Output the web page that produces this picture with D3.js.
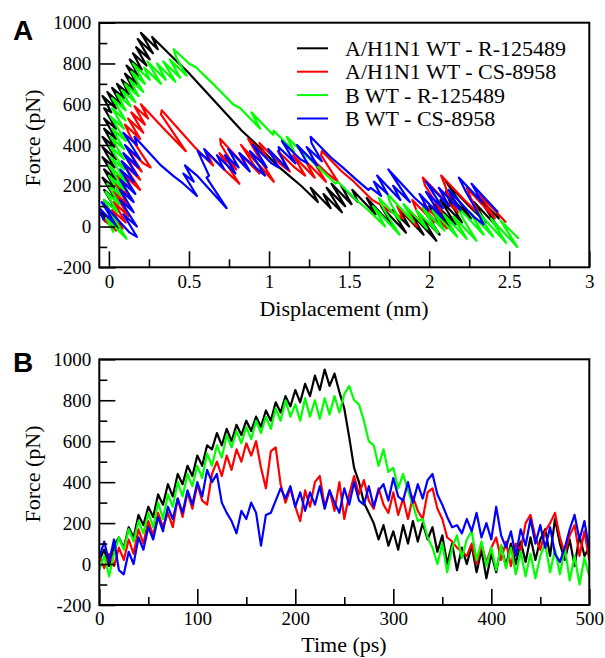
<!DOCTYPE html>
<html>
<head>
<meta charset="utf-8">
<script src="https://cdn.jsdelivr.net/npm/d3@7"></script>
<style>
  html, body { margin: 0; padding: 0; background: #fff; }
  svg { display: block; }
  .tick text { font-family: "Liberation Serif", "Times New Roman", serif; font-size: 19px; fill: #000; }
  .tick line { stroke: #000; stroke-width: 1.6; }
</style>
</head>
<body>
<div id="chart"></div>
<script>
// series names and colours
const seriesNames = ['A/H1N1 WT - R-125489', 'A/H1N1 WT - CS-8958', 'B WT - R-125489', 'B WT - CS-8958'];
const seriesColors = ['#000000', '#ff0000', '#00ff00', '#0000ff'];

// panel B: time (ps), one sample every 5 ps
const timePs = d3.range(0, 501, 5);

// force (pN)
const forceBlack = [20,70,-10,90,130,80,180,130,240,190,280,230,340,290,390,330,440,390,480,430,
  530,480,580,560,640,580,660,600,680,630,700,650,720,670,750,700,790,740,820,770,
  850,790,880,820,920,850,950,870,930,840,760,620,470,400,300,250,200,120,190,90,
  160,70,190,100,210,110,200,120,180,60,140,0,100,-30,80,0,90,-40,70,-70,
  50,-40,90,-10,100,0,110,10,130,20,120,170,40,220,100,20,120,-10,140,40,80];
const forceRed = [40,-20,50,-10,80,20,120,50,170,100,210,140,250,180,250,180,320,230,350,270,
  390,310,290,440,500,430,530,460,560,500,590,530,600,470,370,550,570,390,300,370,
  280,210,360,280,400,430,280,360,260,400,220,340,430,340,410,310,270,370,290,250,
  350,240,320,220,330,260,220,350,370,270,220,130,110,80,60,40,100,0,90,10,
  80,130,20,110,-10,100,70,200,240,130,70,160,200,250,130,50,140,190,40,160,20];
const forceGreen = [-30,40,-60,50,130,70,170,110,210,150,250,180,300,220,340,280,400,330,440,380,
  480,420,540,480,580,520,630,570,650,590,670,610,700,640,720,660,760,700,800,720,
  780,700,810,720,800,710,810,730,820,740,830,870,800,780,700,600,580,480,560,450,
  470,370,440,360,290,210,220,130,80,0,100,-40,80,140,30,120,160,20,110,-10,
  80,-30,90,-20,80,-50,60,-60,50,-70,40,100,-40,70,-50,80,-80,40,-100,30,-60];
const forceBlue = [30,110,10,120,-30,-50,60,0,130,70,180,120,230,160,280,220,320,250,360,290,
  400,330,460,400,440,300,250,210,150,260,220,300,250,90,240,250,310,370,320,380,
  280,350,260,350,290,380,270,360,300,250,370,290,400,310,290,380,280,360,390,310,
  420,330,310,400,300,390,320,410,440,340,290,230,180,190,150,220,160,250,130,200,
  120,280,140,80,160,40,170,90,220,100,190,80,180,50,10,80,170,240,120,210,70];

// panel A: displacement (nm), same samples as the forces
const dispBlack = [-0.02,-0.045,0.06,-0.015,-0.03,0.045,-0.03,0.045,-0.04,0.035,
  -0.03,0.045,-0.04,0.035,-0.04,0.045,-0.04,0.035,-0.03,0.045,
  -0.03,0.045,-0.03,0.015,-0.04,0.045,-0.01,0.075,0.02,0.095,
  0.05,0.125,0.08,0.155,0.1,0.175,0.11,0.185,0.13,0.205,
  0.15,0.235,0.17,0.255,0.18,0.275,0.2,0.305,0.27,0.385,
  0.49,0.655,0.83,0.925,1.05,1.125,1.2,1.305,1.26,1.385,
  1.34,1.455,1.36,1.475,1.39,1.515,1.45,1.555,1.52,1.665,
  1.61,1.775,1.7,1.855,1.77,1.875,1.81,1.965,1.88,2.045,
  1.95,2.065,1.96,2.085,2.0,2.125,2.04,2.165,2.07,2.205,
  2.13,2.105,2.26,2.105,2.25,2.355,2.28,2.435,2.31,2.435,2.42];
const dispRed = [-0.04,0.045,0,0.085,0.02,0.105,0.03,0.125,0.03,0.125,
  0.04,0.135,0.05,0.145,0.1,0.195,0.08,0.195,0.1,0.205,
  0.11,0.215,0.26,0.135,0.1,0.195,0.12,0.215,0.14,0.225,
  0.16,0.245,0.2,0.355,0.48,0.325,0.33,0.535,0.65,0.605,
  0.72,0.815,0.69,0.795,0.7,0.695,0.87,0.815,0.94,0.825,
  1.03,0.935,0.87,0.985,0.94,1.065,1.13,1.055,1.16,1.225,
  1.15,1.285,1.23,1.355,1.27,1.365,1.43,1.325,1.33,1.455,
  1.53,1.645,1.69,1.745,1.79,1.835,1.8,1.925,1.86,1.965,
  1.92,1.895,2.03,1.965,2.11,2.025,2.08,1.975,1.96,2.095,
  2.18,2.115,2.1,2.075,2.22,2.325,2.26,2.235,2.41,2.315,2.48];
const dispGreen = [0.03,-0.015,0.11,0.025,-0.03,0.055,-0.02,0.065,-0.01,0.075,
  0,0.095,0,0.105,0.01,0.095,0,0.095,0.01,0.095,
  0.02,0.105,0.01,0.095,0.02,0.105,0.02,0.105,0.05,0.135,
  0.08,0.165,0.1,0.185,0.13,0.215,0.14,0.225,0.15,0.255,
  0.22,0.325,0.24,0.355,0.3,0.415,0.34,0.445,0.38,0.485,
  0.42,0.405,0.5,0.545,0.65,0.775,0.82,0.945,0.89,1.025,
  1.03,1.155,1.11,1.215,1.31,1.415,1.43,1.545,1.62,1.725,
  1.65,1.815,1.72,1.685,1.82,1.755,1.74,1.905,1.84,1.985,
  1.92,2.055,1.96,2.095,2.02,2.175,2.09,2.235,2.15,2.295,
  2.21,2.175,2.34,2.255,2.4,2.295,2.48,2.385,2.55,2.445,2.56];
const dispBlue = [-0.03,-0.085,0.04,-0.045,0.13,0.175,0.09,0.175,0.07,0.155,
  0.07,0.155,0.07,0.165,0.07,0.155,0.08,0.175,0.09,0.185,
  0.1,0.195,0.09,0.175,0.16,0.325,0.4,0.465,0.55,0.465,
  0.53,0.475,0.55,0.735,0.61,0.625,0.59,0.555,0.63,0.595,
  0.72,0.675,0.79,0.725,0.81,0.745,0.88,0.815,0.9,0.975,
  0.88,0.985,0.9,1.015,1.06,0.995,1.12,1.065,1.06,1.165,
  1.08,1.195,1.24,1.175,1.3,1.235,1.33,1.265,1.26,1.385,
  1.46,1.545,1.62,1.635,1.7,1.655,1.74,1.675,1.82,1.775,
  1.88,1.745,1.91,1.995,1.94,2.085,1.98,2.085,1.98,2.125,
  2.06,2.195,2.12,2.275,2.34,2.295,2.23,2.185,2.33,2.265,2.43];

// axis ticks
const dispMajor = [0, 0.5, 1, 1.5, 2, 2.5, 3];
const dispMinor = [0.25, 0.75, 1.25, 1.75, 2.25, 2.75];
const timeMajor = [0, 100, 200, 300, 400, 500];
const timeMinor = [50, 150, 250, 350, 450];
const forceMajor = [-200, 0, 200, 400, 600, 800, 1000];
const forceMinor = [-100, 100, 300, 500, 700, 900];

const width = 605, height = 658;
const left = 99.3, right = 589.3;

const svg = d3.select('#chart').append('svg')
  .attr('width', width)
  .attr('height', height);

const forces = [forceBlack, forceRed, forceGreen, forceBlue];
const disps = [dispBlack, dispRed, dispGreen, dispBlue];

function drawPanel(opts) {
  const x = d3.scaleLinear().domain(opts.xDomain).range([left, right]);
  const y = d3.scaleLinear().domain([-200, 1000]).range([opts.bottom, opts.top]);
  const g = svg.append('g');

  // clip so lines stay in the frame
  g.append('clipPath').attr('id', opts.id + '-clip')
    .append('rect')
    .attr('x', left).attr('y', opts.top)
    .attr('width', right - left).attr('height', opts.bottom - opts.top);

  const lines = g.append('g').attr('clip-path', `url(#${opts.id}-clip)`);
  opts.series.forEach((pts, i) => {
    lines.append('path')
      .datum(pts)
      .attr('fill', 'none')
      .attr('stroke', seriesColors[i])
      .attr('stroke-width', 2.2)
      .attr('stroke-linejoin', 'round')
      .attr('d', d3.line().x(d => x(d[0])).y(d => y(d[1])));
  });

  // major and minor ticks point inward
  const fmt = d => String(d);
  g.append('g')
    .attr('transform', `translate(0,${opts.bottom})`)
    .call(d3.axisBottom(x).tickValues(opts.xMajor).tickFormat(fmt).tickSizeInner(-16).tickSizeOuter(0).tickPadding(7))
    .call(a => a.select('.domain').remove());
  g.append('g')
    .attr('transform', `translate(0,${opts.bottom})`)
    .call(d3.axisBottom(x).tickValues(opts.xMinor).tickFormat('').tickSizeInner(-8).tickSizeOuter(0))
    .call(a => a.select('.domain').remove());
  g.append('g')
    .attr('transform', `translate(${left},0)`)
    .call(d3.axisLeft(y).tickValues(forceMajor).tickFormat(fmt).tickSizeInner(-16).tickSizeOuter(0).tickPadding(8))
    .call(a => a.select('.domain').remove());
  g.append('g')
    .attr('transform', `translate(${left},0)`)
    .call(d3.axisLeft(y).tickValues(forceMinor).tickFormat('').tickSizeInner(-8).tickSizeOuter(0))
    .call(a => a.select('.domain').remove());

  // frame
  g.append('rect')
    .attr('x', left).attr('y', opts.top)
    .attr('width', right - left).attr('height', opts.bottom - opts.top)
    .attr('fill', 'none')
    .attr('stroke', '#000')
    .attr('stroke-width', 2);

  // axis titles
  g.append('text')
    .attr('x', 344).attr('y', opts.xTitleY)
    .attr('text-anchor', 'middle')
    .style('font-family', '"Liberation Serif", serif')
    .style('font-size', '22px')
    .text(opts.xTitle);
  g.append('text')
    .attr('transform', `translate(40,${opts.yTitleY}) rotate(-90)`)
    .attr('text-anchor', 'middle')
    .style('font-family', '"Liberation Serif", serif')
    .style('font-size', '22px')
    .text('Force (pN)');

  // panel letter
  g.append('text')
    .attr('x', 13).attr('y', opts.letterY)
    .style('font-family', '"Liberation Sans", Arial, sans-serif')
    .style('font-weight', 'bold')
    .style('font-size', '28px')
    .text(opts.letter);
}

drawPanel({
  id: 'pa', letter: 'A', letterY: 40,
  top: 22.7, bottom: 267.3,
  xDomain: [-0.06, 3], xMajor: dispMajor, xMinor: dispMinor,
  xTitle: 'Displacement (nm)', xTitleY: 316, yTitleY: 138,
  series: disps.map((dx, i) => dx.map((v, j) => [v, forces[i][j]]))
});

drawPanel({
  id: 'pb', letter: 'B', letterY: 372,
  top: 359.3, bottom: 605,
  xDomain: [0, 500], xMajor: timeMajor, xMinor: timeMinor,
  xTitle: 'Time (ps)', xTitleY: 652, yTitleY: 474,
  series: forces.map(f => f.map((v, j) => [timePs[j], v]))
});

// legend
const legend = svg.append('g');
seriesNames.forEach((name, i) => {
  const ly = 48.3 + i * 23.4;
  legend.append('line')
    .attr('x1', 297).attr('x2', 328)
    .attr('y1', ly).attr('y2', ly)
    .attr('stroke', seriesColors[i])
    .attr('stroke-width', 2);
  legend.append('text')
    .attr('x', 345).attr('y', ly + 7.5)
    .style('font-family', '"Liberation Serif", serif')
    .style('font-size', '22px')
    .text(name);
});
</script>
</body>
</html>
